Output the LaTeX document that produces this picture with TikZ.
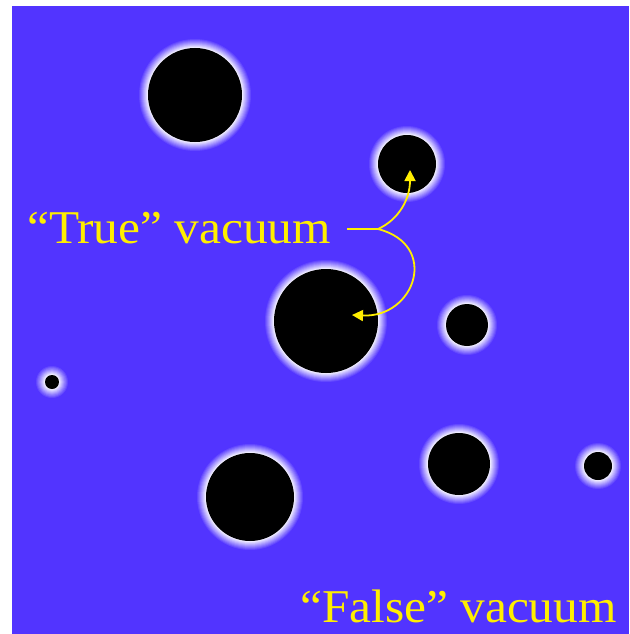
\documentclass[tikz,border=0pt]{standalone}
\usepackage{fontspec}
\setmainfont{Liberation Serif}[FakeStretch=1.05]
\definecolor{bgblue}{RGB}{82,52,255}
\definecolor{lblyellow}{RGB}{255,238,0}
\usetikzlibrary{arrows.meta}
\tikzset{
  lbl/.style={text=lblyellow, font=\fontsize{47}{50}\selectfont, inner sep=0pt, anchor=base west},
  pointer/.style={draw=lblyellow, line width=1.8pt, -{Triangle[length=11pt,width=11pt]}},
}
\newcommand{\bubble}[4]{% name, x, y, r
  \foreach \i in {9,...,1}{
    \pgfmathsetmacro{\mix}{100-\i*10}
    \fill[white!\mix!bgblue] (#2,#3) circle[radius=#4+\i];
  }
  \fill[black] (#2,#3) circle[radius=#4];
  \coordinate (#1) at (#2,#3);
}
\begin{document}
\begin{tikzpicture}[x=1pt,y=-1pt]
\useasboundingbox (0,0) rectangle (629,634);
\fill[white] (0,0) rectangle (629,634);
\fill[bgblue] (12,6) rectangle (629,634);
\bubble{b1}{195}{95}{47}
\bubble{b2}{407}{164}{29}
\bubble{b3}{326}{321}{52}
\bubble{b4}{467}{325}{21}
\bubble{b5}{52}{382}{7}
\bubble{b6}{459}{464}{31}
\bubble{b7}{250}{497}{44}
\bubble{b8}{598}{466}{14}
\node[lbl] (truelbl) at (27,243) {“True” vacuum};
\node[lbl] (falselbl) at (300,622) {“False” vacuum};
\coordinate (fork) at (378,229);
\coordinate (start) at (347,229);
\coordinate (tipA) at (410,170);
\coordinate (tipB) at (352,315);
\draw[draw=lblyellow, line width=1.8pt] (start) -- (fork);
\draw[pointer] (fork) .. controls (398,220) and (410,200) .. (tipA);
\draw[pointer] (fork) .. controls (440,245) and (415,318) .. (tipB);
\end{tikzpicture}
\end{document}
